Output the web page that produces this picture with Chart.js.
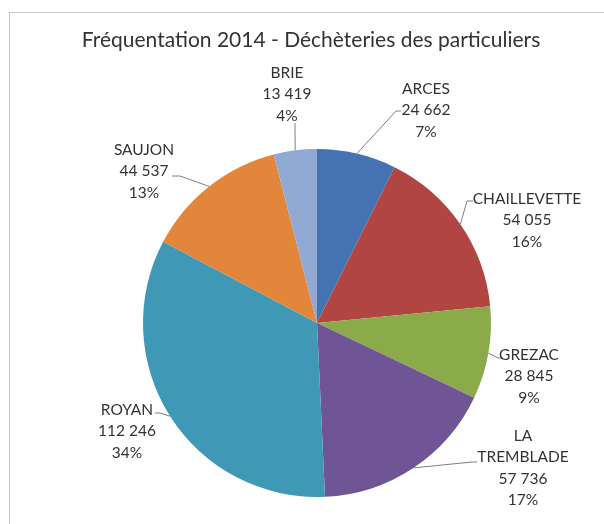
<!DOCTYPE html>
<html lang="fr">
<head>
  <meta charset="UTF-8" />
  <title>Fréquentation 2014 - Déchèteries des particuliers</title>
  <script src="https://cdn.jsdelivr.net/npm/chart.js"></script>
  <style>
    html, body { margin: 0; padding: 0; background: #fff; overflow: hidden; }
  </style>
</head>
<body>
  <canvas id="chart" width="604" height="524"></canvas>

  <script>
    const chartTitle = 'Fréquentation 2014 - Déchèteries des particuliers';
    const sites = ['ARCES', 'CHAILLEVETTE', 'GREZAC', 'LA TREMBLADE', 'ROYAN', 'SAUJON', 'BRIE'];
    const visits = [24662, 54055, 28845, 57736, 112246, 44537, 13419];
    const sliceColors = ['#4573b1', '#b04542', '#8bab4a', '#6f5595', '#3f98b5', '#e1863b', '#91a9d3'];

    // where each callout sits, relative to the pie centre (label centre, leader bend, leader end)
    const callouts = [
      { at: [109, -213], bend: [79, -212], end: [84, -212] },
      { at: [210, -103], bend: [150, -122], end: [156, -122] },
      { at: [212, 53], bend: [181, 35], end: [186, 35] },
      { at: [206, 145], bend: [155, 139], end: [160, 139] },
      { at: [-190, 108], bend: [-157, 90], end: [-162, 90] },
      { at: [-173, -152], bend: [-137, -147], end: [-145, -147] },
      { at: [-30, -229], bend: [-22, -195], end: [-22, -200] }
    ];

    // excel style percentages: rounded so they add up to 100
    function roundedShares(values) {
      const total = values.reduce((a, b) => a + b, 0);
      const raw = values.map(v => v / total * 100);
      const out = raw.map(Math.floor);
      let left = 100 - out.reduce((a, b) => a + b, 0);
      const order = raw.map((r, i) => [r - Math.floor(r), i]).sort((a, b) => b[0] - a[0]);
      for (let k = 0; k < left; k++) out[order[k][1]]++;
      return out;
    }
    const shares = roundedShares(visits);
    const fmt = v => String(v).replace(/\B(?=(\d{3})+(?!\d))/g, ' ');

    const framePlugin = {
      id: 'frame',
      beforeDraw(chart) {
        const c = chart.ctx;
        c.save();
        c.fillStyle = '#fff';
        c.fillRect(0, 0, chart.width, chart.height);
        c.strokeStyle = '#c9c9c9';
        c.lineWidth = 1;
        c.strokeRect(9.5, 12.5, 700, 700);
        c.fillStyle = '#333';
        c.font = '21px Lato';
        c.textAlign = 'center';
        c.textBaseline = 'middle';
        c.fillText(chartTitle, 311, 40);
        c.restore();
      }
    };

    const calloutPlugin = {
      id: 'callouts',
      afterDatasetsDraw(chart) {
        const c = chart.ctx;
        const arcs = chart.getDatasetMeta(0).data;
        c.save();
        arcs.forEach((arc, i) => {
          const p = arc.getProps(['x', 'y', 'startAngle', 'endAngle', 'outerRadius'], true);
          const mid = (p.startAngle + p.endAngle) / 2;
          const sx = p.x + Math.cos(mid) * p.outerRadius;
          const sy = p.y + Math.sin(mid) * p.outerRadius;
          const co = callouts[i];

          c.strokeStyle = '#7f7f7f';
          c.lineWidth = 1;
          c.beginPath();
          c.moveTo(sx, sy);
          c.lineTo(p.x + co.bend[0], p.y + co.bend[1]);
          c.lineTo(p.x + co.end[0], p.y + co.end[1]);
          c.stroke();

          const lines = sites[i].split(' ').concat([fmt(visits[i]), shares[i] + '%']);
          const lh = 21.5;
          const top = p.y + co.at[1] - (lines.length - 1) * lh / 2;
          c.fillStyle = '#333';
          c.font = '15.5px Lato';
          c.textAlign = 'center';
          c.textBaseline = 'middle';
          lines.forEach((t, k) => c.fillText(t, p.x + co.at[0], top + k * lh));
        });
        c.restore();
      }
    };

    new Chart(document.getElementById('chart'), {
      type: 'pie',
      data: {
        labels: sites,
        datasets: [{
          data: visits,
          backgroundColor: sliceColors,
          borderWidth: 0
        }]
      },
      options: {
        responsive: false,
        animation: false,
        layout: { padding: { top: 149, bottom: 27, left: 143, right: 113 } },
        plugins: {
          legend: { display: false },
          tooltip: { enabled: false },
          title: { display: false }
        }
      },
      plugins: [framePlugin, calloutPlugin]
    });
  </script>
</body>
</html>
